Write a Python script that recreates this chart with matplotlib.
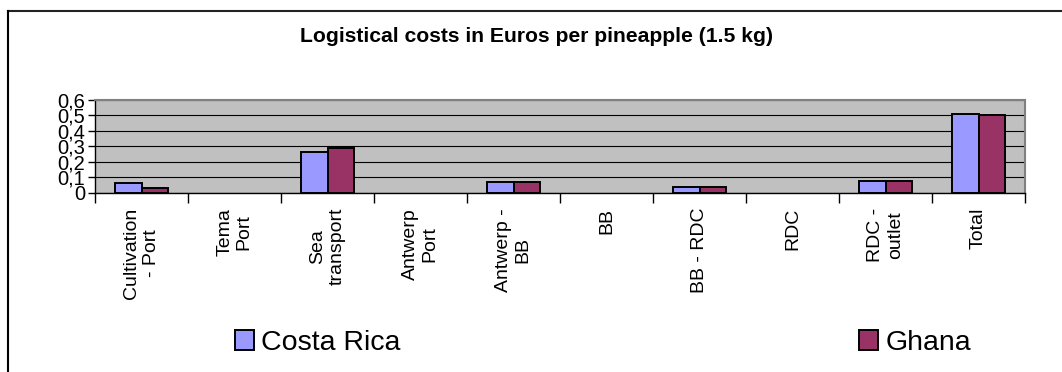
import matplotlib
matplotlib.use('Agg')
import matplotlib.pyplot as plt
import numpy as np
from matplotlib.lines import Line2D
from matplotlib.patches import Patch

plt.rcParams['font.family'] = ['Liberation Sans', 'DejaVu Sans']

categories = ['Cultivation\n- Port', 'Tema\nPort', 'Sea\ntransport', 'Antwerp\nPort',
              'Antwerp -\nBB', 'BB', 'BB - RDC', 'RDC', 'RDC -\noutlet', 'Total']
costa_rica = [0.062, 0, 0.263, 0, 0.07, 0, 0.037, 0, 0.073, 0.506]
ghana = [0.028, 0, 0.285, 0, 0.07, 0, 0.037, 0, 0.073, 0.498]
yticks = [0, 0.1, 0.2, 0.3, 0.4, 0.5, 0.6]
ytick_labels = ['0', '0,1', '0,2', '0,3', '0,4', '0,5', '0,6']

W, H = 1062, 372
fig = plt.figure(figsize=(W / 100, H / 100), dpi=100)
# plot area in pixel coordinates
left, right, top, bottom = 95, 1025, 99.5, 192.7
ax = fig.add_axes([left / W, 1 - bottom / H, (right - left) / W, (bottom - top) / H])

x = np.arange(len(categories))
bw = 0.29


def edge_widths(vals):
    # empty bars get no outline
    return [1.4 if v > 0 else 0 for v in vals]


ax.bar(x - bw / 2, costa_rica, bw, color='#9999FF', edgecolor='black',
       linewidth=edge_widths(costa_rica), zorder=3, label='Costa Rica')
ax.bar(x + bw / 2, ghana, bw, color='#993366', edgecolor='black',
       linewidth=edge_widths(ghana), zorder=3, label='Ghana')

ax.set_facecolor('#C0C0C0')
ax.set_xlim(-0.5, len(categories) - 0.5)
ax.set_ylim(0, 0.6)
ax.set_yticks(yticks)
ax.set_yticklabels(ytick_labels, fontsize=14.5)
ax.yaxis.grid(True, color='black', linewidth=0.8, zorder=1)
ax.set_axisbelow(True)

# ticks between categories, labels at the centres
ax.set_xticks(np.arange(len(categories) + 1) - 0.5)
ax.set_xticklabels([])
ax.set_xticks(x, minor=True)
ax.set_xticklabels(categories, minor=True, rotation=90, fontsize=14,
                   va='top', ha='center', multialignment='center', linespacing=1.2)
ax.tick_params(axis='x', which='minor', length=0, pad=11)
ax.tick_params(axis='x', which='major', length=7, width=1, direction='out')
ax.tick_params(axis='y', length=5, width=1, direction='out', pad=2)

for s in ['left', 'bottom']:
    ax.spines[s].set_color('black')
    ax.spines[s].set_linewidth(1)
for s in ['top', 'right']:
    ax.spines[s].set_color('#808080')
    ax.spines[s].set_linewidth(1.5)

fig.text(536 / W, 1 - 37 / H, 'Logistical costs in Euros per pineapple (1.5 kg)',
         ha='center', va='center', fontsize=15.2, fontweight='bold')

handles = [Patch(facecolor='#9999FF', edgecolor='black', linewidth=1.4),
           Patch(facecolor='#993366', edgecolor='black', linewidth=1.4)]
fig.legend(handles, ['Costa Rica', 'Ghana'], ncol=2, frameon=False, fontsize=20.5,
           handlelength=0.67, handleheight=0.67, handletextpad=0.25, columnspacing=16.1,
           loc='center left', bbox_to_anchor=(235 / W, 1 - 343 / H), borderaxespad=0,
           borderpad=0)

# chart border (top and left edges)
fig.add_artist(Line2D([8 / W, 1], [1 - 11 / H, 1 - 11 / H], color='#222222', linewidth=1.5,
                      transform=fig.transFigure))
fig.add_artist(Line2D([8 / W, 8 / W], [0, 1 - 11 / H], color='black', linewidth=1.5,
                      transform=fig.transFigure))

fig.savefig('out.png', dpi=100)
